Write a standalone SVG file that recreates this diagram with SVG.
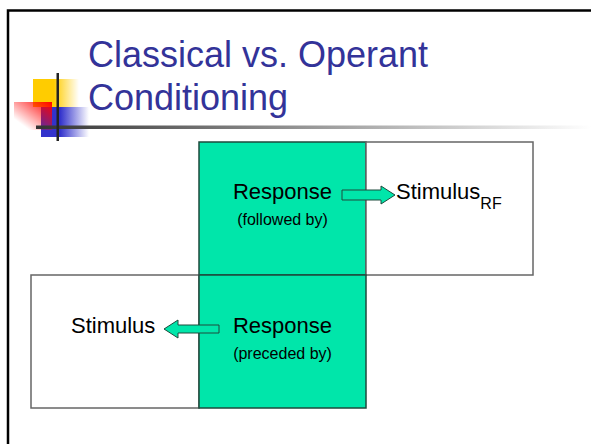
<svg xmlns="http://www.w3.org/2000/svg" width="591" height="444" viewBox="0 0 591 444">
  <defs>
    <linearGradient id="yellowFade" x1="0" y1="0" x2="1" y2="0">
      <stop offset="0" stop-color="#FFCC00"/>
      <stop offset="0.45" stop-color="#FFCC00"/>
      <stop offset="1" stop-color="#FFCC00" stop-opacity="0"/>
    </linearGradient>
    <linearGradient id="blueFade" x1="0" y1="0" x2="1" y2="0">
      <stop offset="0" stop-color="#3333CC"/>
      <stop offset="0.4" stop-color="#3333CC"/>
      <stop offset="1" stop-color="#3333CC" stop-opacity="0"/>
    </linearGradient>
    <linearGradient id="redFade" x1="1" y1="0" x2="0" y2="1">
      <stop offset="0" stop-color="#FF0000"/>
      <stop offset="0.8" stop-color="#FF0000" stop-opacity="0"/>
    </linearGradient>
    <linearGradient id="ruleFade" x1="0" y1="0" x2="1" y2="0">
      <stop offset="0" stop-color="#333333"/>
      <stop offset="1" stop-color="#FFFFFF"/>
    </linearGradient>
    <style>
      .title { font-family: "Liberation Sans", Arial, sans-serif; font-size: 36px; fill: #333399; }
      .big { font-family: "Liberation Sans", Arial, sans-serif; font-size: 22px; fill: #000; }
      .small { font-family: "Liberation Sans", Arial, sans-serif; font-size: 16px; fill: #000; }
      .mid { text-anchor: middle; }
      .cell-green { fill: #00E6AA; stroke: #1E4A3C; stroke-width: 1.5; }
      .cell-white { fill: #FFFFFF; stroke: #666666; stroke-width: 1.5; }
      .arrow { fill: #00E6AA; stroke: #1E4A3C; stroke-width: 1; stroke-linejoin: miter; }
    </style>
  </defs>

  <!-- slide background and frame -->
  <rect x="0" y="0" width="591" height="444" fill="#FFFFFF"/>
  <rect x="8" y="10.5" width="620" height="460" fill="none" stroke="#000" stroke-width="2.5"/>

  <!-- title ornament -->
  <g id="ornament">
    <rect x="33" y="79" width="46" height="28" fill="url(#yellowFade)"/>
    <rect x="41" y="107" width="48" height="30" fill="url(#blueFade)"/>
    <rect x="14" y="102" width="38" height="28" fill="url(#redFade)"/>
    <rect x="36" y="125.5" width="555" height="3.5" fill="url(#ruleFade)"/>
    <rect x="56.5" y="73" width="2.5" height="68" fill="#222222"/>
  </g>

  <!-- title -->
  <g id="title">
    <text class="title" x="88" y="67">Classical vs. Operant</text>
    <text class="title" x="88" y="110">Conditioning</text>
  </g>

  <!-- cells -->
  <g id="response-followed">
    <rect class="cell-green" x="199" y="142" width="167" height="133"/>
    <text class="big mid" x="282.5" y="199">Response</text>
    <text class="small mid" x="282.5" y="225">(followed by)</text>
  </g>
  <g id="stimulus-rf">
    <rect class="cell-white" x="366" y="142" width="167" height="133"/>
    <text class="big" x="396" y="199">Stimulus<tspan font-size="16" dy="10">RF</tspan></text>
  </g>
  <g id="stimulus">
    <rect class="cell-white" x="31" y="275" width="168" height="133"/>
    <text class="big" x="71" y="333">Stimulus</text>
  </g>
  <g id="response-preceded">
    <rect class="cell-green" x="199" y="275" width="167" height="133"/>
    <text class="big mid" x="282.5" y="333">Response</text>
    <text class="small mid" x="282.5" y="359">(preceded by)</text>
  </g>

  <!-- connectors -->
  <g id="connectors">
    <polygon class="arrow" points="342,190 381,190 381,186 395,195 381,204 381,200 342,200"/>
    <polygon class="arrow" points="219,325 178,325 178,320 164,329 178,338 178,333 219,333"/>
  </g>
</svg>
